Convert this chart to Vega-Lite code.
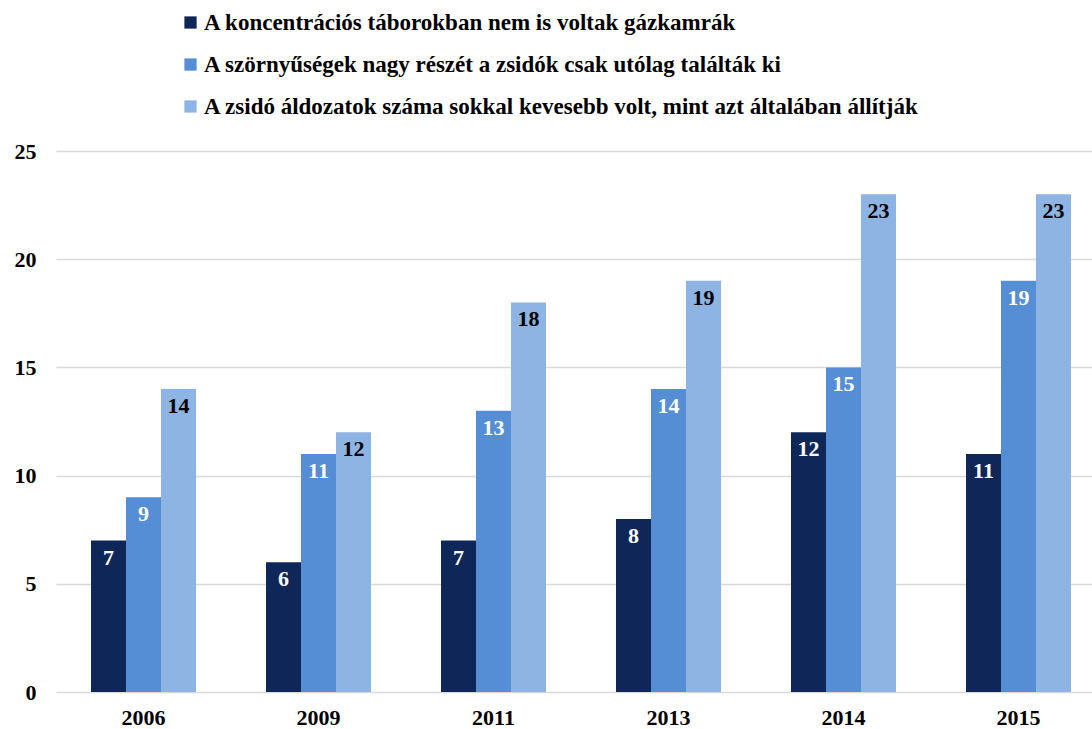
{
  "$schema": "https://vega.github.io/schema/vega-lite/v6.json",
  "width": 1036,
  "height": 541,
  "autosize": {"type": "none"},
  "padding": {"left": 56, "top": 151, "right": 0, "bottom": 37},
  "background": "white",
  "config": {
    "view": {"stroke": null},
    "font": "Liberation Serif"
  },
  "data": {
    "values": [
      {"year": "2006", "series": "A koncentrációs táborokban nem is voltak gázkamrák", "value": 7},
      {"year": "2006", "series": "A szörnyűségek nagy részét a zsidók csak utólag találták ki", "value": 9},
      {"year": "2006", "series": "A zsidó áldozatok száma sokkal kevesebb volt, mint azt általában állítják", "value": 14},
      {"year": "2009", "series": "A koncentrációs táborokban nem is voltak gázkamrák", "value": 6},
      {"year": "2009", "series": "A szörnyűségek nagy részét a zsidók csak utólag találták ki", "value": 11},
      {"year": "2009", "series": "A zsidó áldozatok száma sokkal kevesebb volt, mint azt általában állítják", "value": 12},
      {"year": "2011", "series": "A koncentrációs táborokban nem is voltak gázkamrák", "value": 7},
      {"year": "2011", "series": "A szörnyűségek nagy részét a zsidók csak utólag találták ki", "value": 13},
      {"year": "2011", "series": "A zsidó áldozatok száma sokkal kevesebb volt, mint azt általában állítják", "value": 18},
      {"year": "2013", "series": "A koncentrációs táborokban nem is voltak gázkamrák", "value": 8},
      {"year": "2013", "series": "A szörnyűségek nagy részét a zsidók csak utólag találták ki", "value": 14},
      {"year": "2013", "series": "A zsidó áldozatok száma sokkal kevesebb volt, mint azt általában állítják", "value": 19},
      {"year": "2014", "series": "A koncentrációs táborokban nem is voltak gázkamrák", "value": 12},
      {"year": "2014", "series": "A szörnyűségek nagy részét a zsidók csak utólag találták ki", "value": 15},
      {"year": "2014", "series": "A zsidó áldozatok száma sokkal kevesebb volt, mint azt általában állítják", "value": 23},
      {"year": "2015", "series": "A koncentrációs táborokban nem is voltak gázkamrák", "value": 11},
      {"year": "2015", "series": "A szörnyűségek nagy részét a zsidók csak utólag találták ki", "value": 19},
      {"year": "2015", "series": "A zsidó áldozatok száma sokkal kevesebb volt, mint azt általában állítják", "value": 23}
    ]
  },
  "encoding": {
    "x": {
      "field": "year", "type": "nominal", "title": null,
      "scale": {"range": [0, 1050], "paddingInner": 0.4, "paddingOuter": 0.2},
      "axis": {"labelAngle": 0, "domain": false, "ticks": false, "labelFont": "Liberation Serif", "labelFontWeight": "bold", "labelFontSize": 22, "labelColor": "black", "labelPadding": 15}
    },
    "y": {
      "field": "value", "type": "quantitative", "title": null,
      "scale": {"domain": [0, 25], "nice": false},
      "axis": {"values": [0, 5, 10, 15, 20, 25], "domain": false, "ticks": false, "gridColor": "#D9D9D9", "gridWidth": 1.5, "labelFont": "Liberation Serif", "labelFontWeight": "bold", "labelFontSize": 22, "labelColor": "black", "labelPadding": 20}
    },
    "xOffset": {
      "field": "series", "type": "nominal",
      "scale": {"paddingInner": 0, "paddingOuter": 0, "domain": [
        "A koncentrációs táborokban nem is voltak gázkamrák",
        "A szörnyűségek nagy részét a zsidók csak utólag találták ki",
        "A zsidó áldozatok száma sokkal kevesebb volt, mint azt általában állítják"
      ]}
    }
  },
  "layer": [
    {
      "mark": {"type": "bar"},
      "encoding": {
        "color": {
          "field": "series", "type": "nominal", "title": null,
          "scale": {
            "domain": [
              "A koncentrációs táborokban nem is voltak gázkamrák",
              "A szörnyűségek nagy részét a zsidók csak utólag találták ki",
              "A zsidó áldozatok száma sokkal kevesebb volt, mint azt általában állítják"
            ],
            "range": ["#0E2758", "#558ED5", "#8EB4E3"]
          },
          "legend": {
            "orient": "none", "legendX": 123, "legendY": -140,
            "direction": "vertical",
            "symbolType": "square", "symbolSize": 150, "symbolStrokeWidth": 0,
            "labelFont": "Liberation Serif", "labelFontWeight": "bold", "labelFontSize": 23, "labelColor": "black",
            "labelLimit": 1000, "labelOffset": 2, "rowPadding": 18
          }
        }
      }
    },
    {
      "mark": {"type": "text", "baseline": "middle", "dy": 17, "font": "Liberation Serif", "fontWeight": "bold", "fontSize": 22},
      "encoding": {
        "text": {"field": "value", "type": "quantitative"},
        "color": {
          "condition": {"test": "datum.series === 'A zsidó áldozatok száma sokkal kevesebb volt, mint azt általában állítják'", "value": "black"},
          "value": "white"
        }
      }
    }
  ]
}
